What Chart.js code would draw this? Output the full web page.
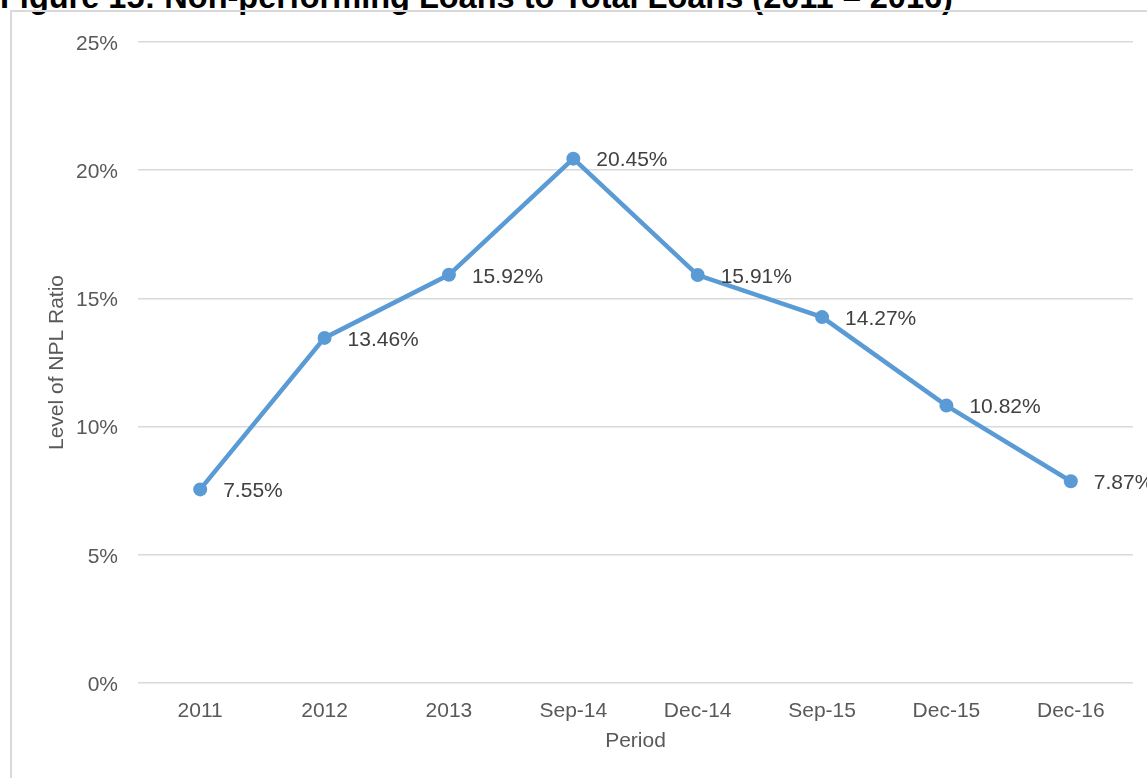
<!DOCTYPE html>
<html>
<head>
<meta charset="utf-8">
<script src="https://cdn.jsdelivr.net/npm/chart.js@4/dist/chart.umd.min.js"></script>
<style>
  html, body { margin: 0; padding: 0; background: #fff; overflow: hidden; }
  #wrap { position: relative; width: 1147px; height: 778px; }
  #title {
    position: absolute; left: 0; top: -19px; white-space: nowrap;
    font: bold 32.5px "Liberation Sans", Arial, sans-serif; line-height: 32.5px; color: #000;
  }
  #frame {
    position: absolute; left: 10px; top: 10px; width: 1200px; height: 800px;
    border-left: 2px solid #d9d9d9; border-top: 2px solid #d9d9d9;
  }
  canvas { position: absolute; left: 0; top: 0; }
</style>
</head>
<body>
<div id="wrap">
  <div id="title">Figure 15: Non-performing Loans to Total Loans (2011 – 2016)</div>
  <div id="frame"></div>
  <canvas id="npl-chart" width="1147" height="778"></canvas>
</div>
<script>
const periods = ['2011', '2012', '2013', 'Sep-14', 'Dec-14', 'Sep-15', 'Dec-15', 'Dec-16'];
const nplRatio = [7.55, 13.46, 15.92, 20.45, 15.91, 14.27, 10.82, 7.87];
const yTicks = [0, 5, 10, 15, 20, 25];

const FONT = '"Liberation Sans", Arial, sans-serif';

// value labels to the right of each point
const pointLabels = {
    id: 'pointLabels',
    afterDatasetsDraw(chart) {
        const ctx = chart.ctx;
        const meta = chart.getDatasetMeta(0);
        ctx.save();
        ctx.font = '21px ' + FONT;
        ctx.fillStyle = '#404040';
        ctx.textAlign = 'left';
        ctx.textBaseline = 'middle';
        meta.data.forEach((pt, i) => {
            ctx.fillText(nplRatio[i].toFixed(2) + '%', pt.x + 23, pt.y + 2);
        });
        ctx.restore();
    }
};

const ctx = document.getElementById('npl-chart').getContext('2d');
new Chart(ctx, {
    type: 'line',
    data: {
        labels: periods,
        datasets: [{
            label: 'NPL Ratio',
            data: nplRatio,
            borderColor: '#5b9bd5',
            backgroundColor: '#5b9bd5',
            borderWidth: 4.5,
            pointRadius: 7,
            pointBorderWidth: 0,
            tension: 0
        }]
    },
    options: {
        responsive: false,
        animation: false,
        layout: { padding: { top: 42, right: 14, left: 0, bottom: 0 } },
        plugins: {
            legend: { display: false },
            tooltip: { enabled: false }
        },
        scales: {
            x: {
                offset: true,
                grid: { display: false, drawTicks: false },
                border: { display: false },
                ticks: { color: '#595959', font: { family: FONT, size: 21 }, padding: 16 },
                title: {
                    display: true, text: 'Period', color: '#595959',
                    font: { family: FONT, size: 21 }, padding: { top: 0, bottom: 24 }
                },
                afterFit(scale) { scale.height = 95; }
            },
            y: {
                min: 0,
                max: 25,
                afterBuildTicks(scale) { scale.ticks = yTicks.map(v => ({ value: v })); },
                grid: { color: '#d9d9d9', lineWidth: 1.5, drawTicks: false },
                border: { display: false },
                ticks: {
                    color: '#595959', font: { family: FONT, size: 21 }, padding: 20,
                    labelOffset: 2,
                    callback: v => v + '%'
                },
                title: {
                    display: true, text: 'Level of NPL Ratio', color: '#595959',
                    font: { family: FONT, size: 21 }, padding: { top: 45, bottom: 0 }
                },
                afterFit(scale) { scale.width = 138; }
            }
        }
    },
    plugins: [pointLabels]
});
</script>
</body>
</html>
